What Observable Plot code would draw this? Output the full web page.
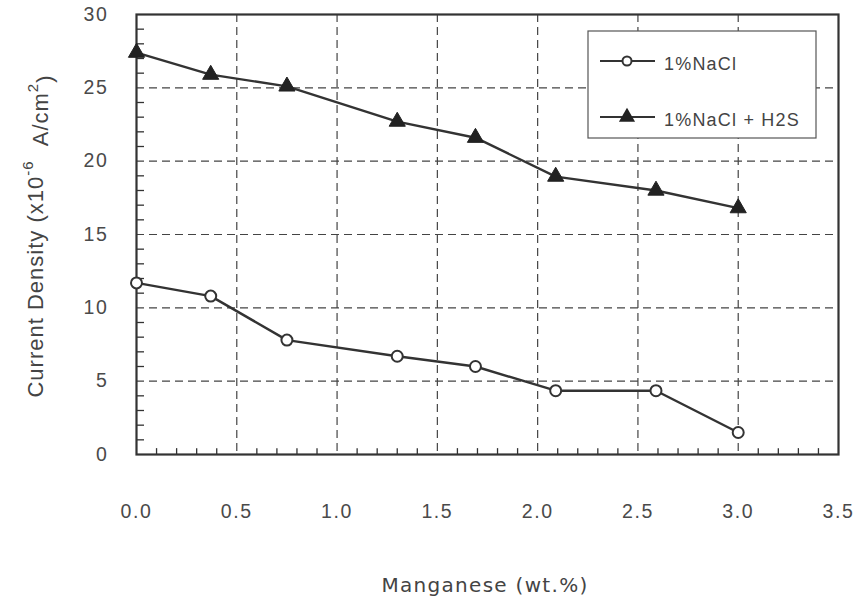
<!DOCTYPE html>
<html><head><meta charset="utf-8">
<script src="https://cdn.jsdelivr.net/npm/d3@7"></script>
<script src="https://cdn.jsdelivr.net/npm/@observablehq/plot@0.6"></script>
<style>body{margin:0;background:#fff;}</style>
</head><body><div id="chart"></div>
<script>
const manganese = [0.0, 0.37, 0.75, 1.30, 1.69, 2.09, 2.59, 3.0];
const nacl      = [11.7, 10.8, 7.8, 6.7, 6.0, 4.35, 4.35, 1.5];
const naclH2S   = [27.4, 25.9, 25.1, 22.7, 21.6, 18.95, 18.0, 16.8];
const seriesNames = ["1%NaCl", "1%NaCl + H2S"];
const xTicks = [0, 0.5, 1.0, 1.5, 2.0, 2.5, 3.0, 3.5];
const yTicks = [0, 5, 10, 15, 20, 25, 30];
const xGrid = [0.5, 1.0, 1.5, 2.0, 2.5, 3.0];
const yGrid = [5, 10, 15, 20, 25];
const xMinor = [0.1,0.2,0.3,0.4, 0.6,0.7,0.8,0.9, 1.1,1.2,1.3,1.4, 1.6,1.7,1.8,1.9,
                2.1,2.2,2.3,2.4, 2.6,2.7,2.8,2.9, 3.1,3.2,3.3,3.4];
const yMinor = [1,2,3,4, 6,7,8,9, 11,12,13,14, 16,17,18,19, 21,22,23,24, 26,27,28,29];
const xLabel = "Manganese (wt.%)";

const rowsA = manganese.map((m, i) => ({x: m, y: nacl[i], series: seriesNames[0]}));
const rowsB = manganese.map((m, i) => ({x: m, y: naclH2S[i], series: seriesNames[1]}));
const ink = "#333";

const chart = Plot.plot({
  width: 858, height: 604,
  marginLeft: 136, marginRight: 20, marginTop: 14, marginBottom: 150,
  style: {fontFamily: "'Liberation Sans', Arial, sans-serif", fontSize: "19.5px", color: "#4a4a4a", letterSpacing: "1.6px", background: "#fff"},
  x: {domain: [0, 3.5]},
  y: {domain: [0, 30]},
  marks: [
    Plot.ruleX(xGrid, {x: d => d, y1: 30, y2: 0, stroke: "#444", strokeWidth: 1.2, strokeDasharray: "8,5"}),
    Plot.ruleY(yGrid, {y: d => d, x1: 0, x2: 3.5, stroke: "#444", strokeWidth: 1.2, strokeDasharray: "8,5"}),
    Plot.ruleX(xMinor, {x: d => d, y1: 0, y2: 0.4, stroke: ink, strokeWidth: 1.3}),
    Plot.ruleY(yMinor, {y: d => d, x1: 0, x2: 0.04, stroke: ink, strokeWidth: 1.3}),
    Plot.frame({stroke: ink, strokeWidth: 2.2}),
    Plot.line(rowsA, {x: "x", y: "y", stroke: ink, strokeWidth: 2.4}),
    Plot.line(rowsB, {x: "x", y: "y", stroke: ink, strokeWidth: 2.4}),
    Plot.dot(rowsA, {x: "x", y: "y", r: 5.5, fill: "white", stroke: ink, strokeWidth: 2}),
    Plot.dot(rowsB, {x: "x", y: "y", r: 6, symbol: "triangle", fill: "#222", stroke: "#222", strokeWidth: 1}),
    Plot.axisX(xTicks, {tickSize: 0, tickPadding: 50, tickFormat: d => d.toFixed(1), label: null}),
    Plot.axisY(yTicks, {tickSize: 0, tickPadding: 28, label: null})
  ]
});
document.getElementById("chart").append(chart);

const svg = d3.select(chart);
// y-axis title
const yt = svg.append("text")
  .attr("transform", "translate(43,236) rotate(-90)")
  .attr("text-anchor", "middle")
  .attr("fill", "#444")
  .style("font-size", "22px").style("letter-spacing", "1px");
yt.append("tspan").text("Current Density (x10");
yt.append("tspan").attr("dy", "-0.65em").style("font-size", "15px").text("-6");
yt.append("tspan").attr("dy", "0.65em").text("\u00a0\u00a0A/cm");
yt.append("tspan").attr("dy", "-0.65em").style("font-size", "15px").text("2");
yt.append("tspan").attr("dy", "0.65em").text(")");

// x-axis title
svg.append("text")
  .attr("x", 485).attr("y", 592)
  .attr("text-anchor", "middle")
  .attr("fill", "#444")
  .style("font-family", "'DejaVu Sans', Verdana, sans-serif")
  .style("font-size", "20px").style("letter-spacing", "1.3px")
  .text(xLabel);

// legend
const lg = svg.append("g").attr("text-anchor", "start");
lg.append("rect").attr("x", 588).attr("y", 31).attr("width", 228).attr("height", 107)
  .attr("fill", "white").attr("stroke", "#555").attr("stroke-width", 1.2);
const ly = [61, 117];
ly.forEach((y, i) => {
  lg.append("line").attr("x1", 600).attr("x2", 655).attr("y1", y).attr("y2", y)
    .attr("stroke", ink).attr("stroke-width", 2.2);
  if (i === 0) {
    lg.append("circle").attr("cx", 627).attr("cy", y).attr("r", 4.5)
      .attr("fill", "white").attr("stroke", ink).attr("stroke-width", 2);
  } else {
    lg.append("path").attr("transform", `translate(627,${y})`)
      .attr("d", d3.symbol(d3.symbolTriangle, Math.PI * 6 * 6)())
      .attr("fill", "#222");
  }
  lg.append("text").attr("x", 664).attr("y", y + 3).attr("dy", "0.35em")
    .attr("text-anchor", "start")
    .attr("fill", "#444").style("font-size", "18px").style("letter-spacing", "1.2px")
    .text(seriesNames[i]);
});
</script>
</body></html>
